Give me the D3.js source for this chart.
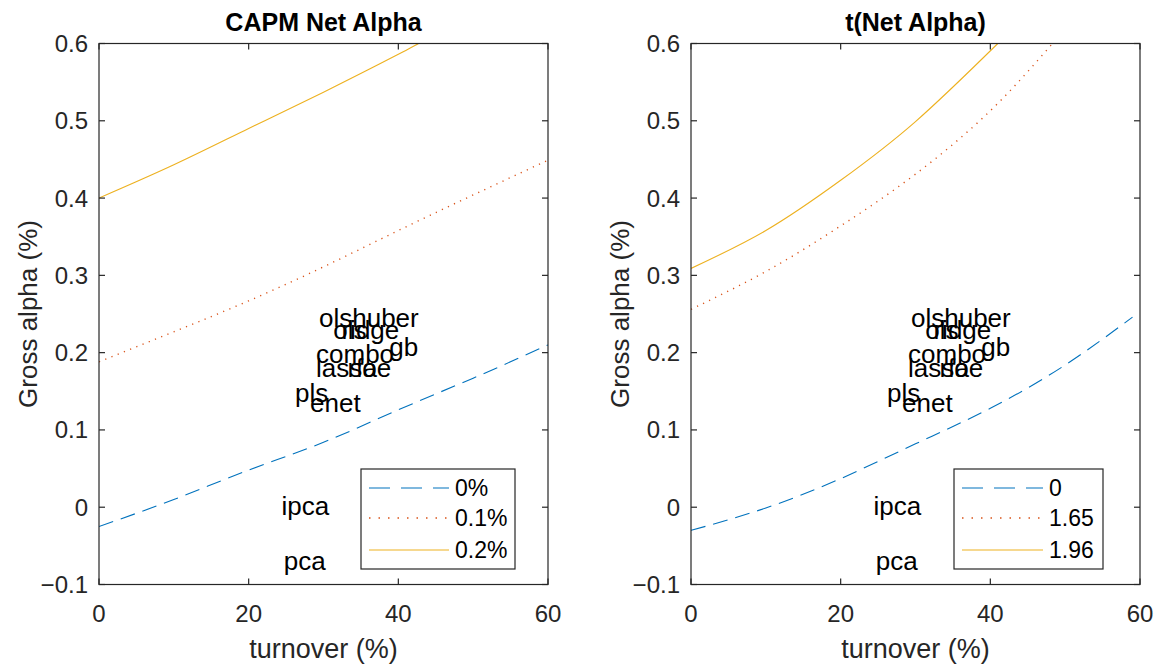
<!DOCTYPE html>
<html>
<head>
<meta charset="utf-8">
<script src="https://cdn.jsdelivr.net/npm/d3@7"></script>
<style>
  html, body { margin: 0; padding: 0; background: #fff; }
  svg { display: block; font-family: "Liberation Sans", Arial, Helvetica, sans-serif; }
</style>
</head>
<body>
<svg id="chart" width="1159" height="667"></svg>
<script>
// Break-even gross alpha (%) as a function of turnover (%)
const capmTurnover0  = [0, 10, 20, 30, 40, 50, 60];
const capmNet0       = [-0.025, 0.010, 0.048, 0.084, 0.126, 0.167, 0.210];
const capmTurnover1  = [0, 10, 20, 30, 40, 50, 60];
const capmNet1       = [0.188, 0.227, 0.267, 0.311, 0.358, 0.404, 0.449];
const capmTurnover2  = [0, 10, 20, 30, 40, 42.7];
const capmNet2       = [0.400, 0.443, 0.490, 0.537, 0.586, 0.600];

const tTurnover0     = [0, 10, 20, 30, 40, 50, 59];
const tNet0          = [-0.030, -0.001, 0.037, 0.082, 0.128, 0.184, 0.246];
const tTurnover1     = [0, 10, 20, 30, 40, 48.3];
const tNet1          = [0.256, 0.305, 0.364, 0.431, 0.513, 0.600];
const tTurnover2     = [0, 10, 20, 30, 41];
const tNet2          = [0.309, 0.358, 0.423, 0.499, 0.600];

const capmLegend = ["0%", "0.1%", "0.2%"];
const tLegend    = ["0", "1.65", "1.96"];

// Strategies: turnover (%) and gross alpha (%)
const methodNames    = ["olshuber", "ols", "ridge", "combo", "gb", "lasso", "rf", "ae", "pls", "enet", "ipca", "pca"];
const methodTurnover = [29.4, 31.3, 32.4, 29.0, 38.8, 29.0, 33.2, 35.2, 26.2, 28.2, 24.4, 24.7];
const methodAlpha    = [0.245, 0.229, 0.229, 0.198, 0.207, 0.180, 0.180, 0.180, 0.148, 0.135, 0.002, -0.069];

const xTicks = [0, 20, 40, 60];
const yTicks = [-0.1, 0, 0.1, 0.2, 0.3, 0.4, 0.5, 0.6];

const colors = ["#0072BD", "#D95319", "#EDB120"];
const dashes = ["15,8", "1.2,5.5", null];
const legendDashes = ["21,11", "1.5,8", null];

const svg = d3.select("#chart");
const axisColor = "#262626";

function panel(opts) {
  const { left, right, top, bottom, title, series, legendLabels, legendBox, idx } = opts;
  const x = d3.scaleLinear().domain([0, 60]).range([left, right]);
  const y = d3.scaleLinear().domain([-0.1, 0.6]).range([bottom, top]);
  const g = svg.append("g");

  const clipId = "clip" + idx;
  svg.append("defs").append("clipPath").attr("id", clipId)
    .append("rect").attr("x", left).attr("y", top)
    .attr("width", right - left).attr("height", bottom - top);

  // curves
  const line = d3.line().x(d => x(d[0])).y(d => y(d[1])).curve(d3.curveNatural);
  const plot = g.append("g").attr("clip-path", `url(#${clipId})`);
  series.forEach((s, i) => {
    const pts = s.x.map((v, k) => [v, s.y[k]]);
    plot.append("path").attr("d", line(pts))
      .attr("fill", "none").attr("stroke", colors[i])
      .attr("stroke-width", i === 1 ? 1.4 : 1.1)
      .attr("stroke-dasharray", dashes[i]);
  });

  // method labels
  g.append("g").selectAll("text").data(methodNames).join("text")
    .attr("x", (d, i) => x(methodTurnover[i]))
    .attr("y", (d, i) => y(methodAlpha[i]))
    .attr("dominant-baseline", "central")
    .attr("font-size", 26).attr("fill", "#000")
    .text(d => d);

  // axes with inward ticks on all four sides
  const tick = 6;
  const ax = g.append("g").attr("stroke", axisColor).attr("stroke-width", 1.2);
  ax.append("rect").attr("x", left).attr("y", top)
    .attr("width", right - left).attr("height", bottom - top)
    .attr("fill", "none");
  xTicks.forEach(t => {
    ax.append("line").attr("x1", x(t)).attr("x2", x(t)).attr("y1", bottom).attr("y2", bottom - tick);
    ax.append("line").attr("x1", x(t)).attr("x2", x(t)).attr("y1", top).attr("y2", top + tick);
  });
  yTicks.forEach(t => {
    ax.append("line").attr("x1", left).attr("x2", left + tick).attr("y1", y(t)).attr("y2", y(t));
    ax.append("line").attr("x1", right).attr("x2", right - tick).attr("y1", y(t)).attr("y2", y(t));
  });

  const fmt = d3.format("~g");
  g.append("g").selectAll("text").data(xTicks).join("text")
    .attr("x", d => x(d)).attr("y", bottom + 37)
    .attr("text-anchor", "middle").attr("font-size", 24).attr("fill", axisColor)
    .text(d => fmt(d));
  g.append("g").selectAll("text").data(yTicks).join("text")
    .attr("x", left - 11).attr("y", d => y(d))
    .attr("dominant-baseline", "central")
    .attr("text-anchor", "end").attr("font-size", 24).attr("fill", axisColor)
    .text(d => fmt(d));

  g.append("text").attr("x", (left + right) / 2).attr("y", bottom + 73)
    .attr("text-anchor", "middle").attr("font-size", 27).attr("fill", axisColor)
    .text("turnover (%)");
  g.append("text")
    .attr("transform", `translate(${left - 71},${(top + bottom) / 2}) rotate(-90)`)
    .attr("text-anchor", "middle").attr("dominant-baseline", "central")
    .attr("font-size", 26).attr("fill", axisColor)
    .text("Gross alpha (%)");
  g.append("text").attr("x", (left + right) / 2).attr("y", top - 13)
    .attr("text-anchor", "middle").attr("font-size", 25).attr("font-weight", "bold")
    .attr("fill", "#000").text(title);

  // legend
  const lb = legendBox;
  const lg = g.append("g");
  lg.append("rect").attr("x", lb.x).attr("y", lb.y).attr("width", lb.w).attr("height", lb.h)
    .attr("fill", "#fff").attr("stroke", axisColor).attr("stroke-width", 1.2);
  const rowY = [lb.y + 19, lb.y + 49, lb.y + 81];
  legendLabels.forEach((lab, i) => {
    lg.append("line").attr("x1", lb.x + 8).attr("x2", lb.x + lb.line)
      .attr("y1", rowY[i]).attr("y2", rowY[i])
      .attr("stroke", colors[i]).attr("stroke-width", i === 1 ? 1.4 : 1.2)
      .attr("stroke-dasharray", legendDashes[i]);
    lg.append("text").attr("x", lb.x + lb.line + 6).attr("y", rowY[i])
      .attr("dominant-baseline", "central").attr("font-size", 23).attr("fill", "#000")
      .text(lab);
  });
}

panel({
  idx: 0, left: 99, right: 548, top: 43.5, bottom: 584.5,
  title: "CAPM Net Alpha",
  series: [
    { x: capmTurnover0, y: capmNet0 },
    { x: capmTurnover1, y: capmNet1 },
    { x: capmTurnover2, y: capmNet2 }
  ],
  legendLabels: capmLegend,
  legendBox: { x: 361, y: 469, w: 154, h: 100, line: 88 }
});

panel({
  idx: 1, left: 691, right: 1140, top: 43.5, bottom: 584.5,
  title: "t(Net Alpha)",
  series: [
    { x: tTurnover0, y: tNet0 },
    { x: tTurnover1, y: tNet1 },
    { x: tTurnover2, y: tNet2 }
  ],
  legendLabels: tLegend,
  legendBox: { x: 954, y: 469, w: 149, h: 100, line: 89 }
});
</script>
</body>
</html>
